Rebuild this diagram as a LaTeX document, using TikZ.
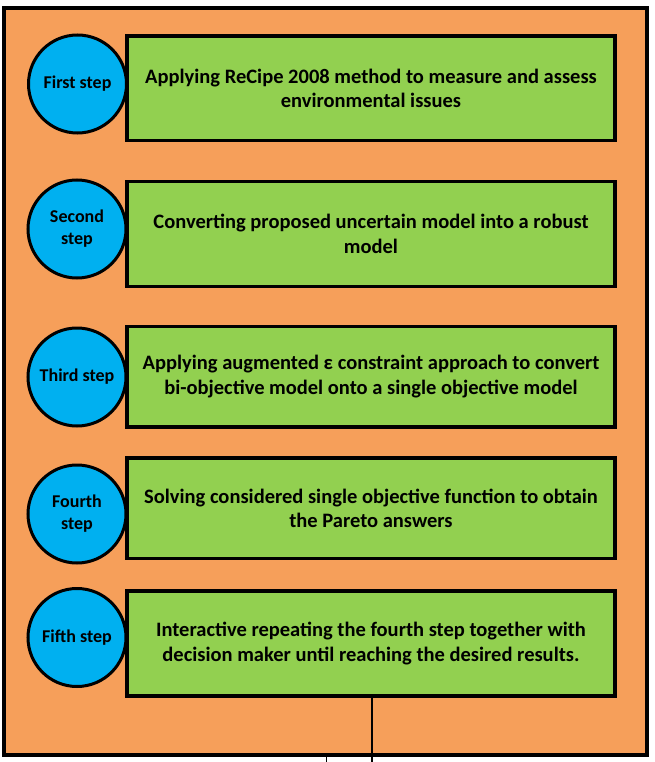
\documentclass[tikz,border=0pt]{standalone}
\usepackage{fontspec}
\setmainfont{Carlito}
\definecolor{frameorange}{RGB}{246,159,90}
\definecolor{boxgreen}{RGB}{146,208,80}
\definecolor{stepblue}{RGB}{0,176,240}
\tikzset{
  frame/.style={draw=black, line width=4pt, fill=frameorange},
  taskbox/.style={draw=black, line width=3.3pt, fill=boxgreen, minimum width=488pt,
    align=center, inner sep=0pt, font=\bfseries\fontsize{20.5}{24.5}\selectfont},
  stepcircle/.style={circle, draw=black, line width=3pt, fill=stepblue, minimum size=98pt,
    inner sep=0pt, align=center, font=\bfseries\fontsize{18}{22}\selectfont},
  thinline/.style={draw=black, line width=1.2pt}
}
\begin{document}
\begin{tikzpicture}[x=1pt,y=-1pt]
\useasboundingbox (0,0) rectangle (655,762);
\fill[white] (0,0) rectangle (655,762);
\draw[frame] (4,8.3) rectangle (647,755);

\node[taskbox, minimum height=104.5pt] (b1) at (371,88.25)
  {Applying ReCipe 2008 method to measure and assess\\environmental issues};
\node[taskbox, minimum height=105pt] (b2) at (371,234)
  {Converting proposed uncertain model into a robust\\model};
\node[taskbox, minimum height=100.5pt] (b3) at (371,376.75)
  {Applying augmented ε constraint approach to convert\\bi-objective model onto a single objective model};
\node[taskbox, minimum height=100.5pt] (b4) at (371,508.25)
  {Solving considered single objective function to obtain\\the Pareto answers};
\node[taskbox, minimum height=105pt] (b5) at (371,643.5)
  {Interactive repeating the fourth step together with\\decision maker until reaching the desired results.};

\node[stepcircle] (c1) at (77.5,84) {First step};
\node[stepcircle] (c2) at (77,229) {Second\\step};
\node[stepcircle] (c3) at (77,377) {Third step};
\node[stepcircle] (c4) at (77,514) {Fourth\\step};
\node[stepcircle] (c5) at (77,637.5) {Fifth step};

\coordinate (lineend) at (372,762);
\draw[thinline] (b5.south -| lineend) -- (lineend);
\coordinate (tickend) at (326,762);
\coordinate (tickstart) at (326,757);
\draw[black, line width=0.8pt] (tickstart) -- (tickend);
\end{tikzpicture}
\end{document}
